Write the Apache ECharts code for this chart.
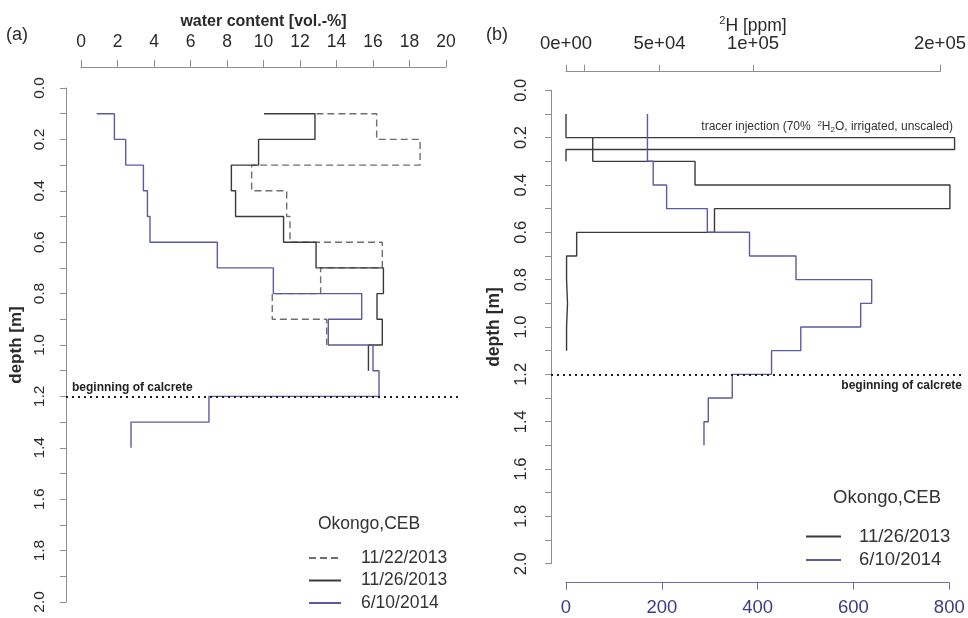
<!DOCTYPE html>
<html><head><meta charset="utf-8">
<script src="https://cdn.jsdelivr.net/npm/echarts@6/dist/echarts.min.js"></script>
<style>html,body{margin:0;padding:0;background:#fff}#c{width:968px;height:618px}</style>
</head><body><div id="c"></div>
<script>
// ---------- data ----------
// Panel (a): water content [vol.-%] per depth layer; first point = start of profile
const depth_wc_1122 = [0.1, 0.2, 0.3, 0.4, 0.5, 0.6, 0.7, 0.8, 0.9, 1.0];
const wc_1122 = [12.9, 16.2, 18.58, 9.35, 11.27, 11.45, 16.51, 13.13, 10.48, 13.46];
const depth_wc_1126 = [0.1, 0.2, 0.3, 0.4, 0.5, 0.6, 0.7, 0.8, 0.9, 1.0, 1.1];
const wc_1126 = [10.03, 12.82, 9.73, 8.24, 8.47, 11.1, 12.88, 16.57, 16.22, 16.51, 15.75];
const depth_wc_0610 = [0.1, 0.2, 0.3, 0.4, 0.5, 0.6, 0.7, 0.8, 0.9, 1.0, 1.1, 1.2, 1.3, 1.4];
const wc_0610 = [0.86, 1.83, 2.45, 3.42, 3.64, 3.78, 7.47, 10.54, 15.38, 13.55, 16.0, 16.33, 7.01, 2.74];

// Panel (b): 2H [ppm]
const depth_tracer = [0.1, 0.2, 0.25, 0.3];
const h2_tracer = [0, 0, 207800, 0];              // top axis units (unscaled tracer)
const depth_h2_1126 = [0.2, 0.3, 0.4, 0.5, 0.6, 0.7, 0.8, 0.9, 1.0, 1.1];
const h2_1126 = [14300, 14300, 69000, 205300, 79400, 5700, 300, 800, 300, 300];  // top axis units
const depth_h2_0610 = [0.1, 0.2, 0.3, 0.4, 0.5, 0.6, 0.7, 0.8, 0.9, 1.0, 1.1, 1.2, 1.3, 1.4, 1.5];
const h2_0610 = [170, 170, 170, 182, 210, 295, 383, 480, 638, 615, 490, 429, 347, 297, 288]; // bottom axis units

const calcreteDepth = 1.2;

// tick values / labels
const wcTicks = [0, 2, 4, 6, 8, 10, 12, 14, 16, 18, 20];
const depthTicks = [0, 0.1, 0.2, 0.3, 0.4, 0.5, 0.6, 0.7, 0.8, 0.9, 1.0, 1.1, 1.2, 1.3, 1.4, 1.5, 1.6, 1.7, 1.8, 1.9, 2.0];
const depthLabels = [0, 0.2, 0.4, 0.6, 0.8, 1.0, 1.2, 1.4, 1.6, 1.8, 2.0];
const h2TopTicks = [0, 10000, 50000, 100000, 200000];
const h2TopLabels = [0, 50000, 100000, 200000];
const h2BottomTicks = [0, 200, 400, 600, 800];

const legendA = ['11/22/2013', '11/26/2013', '6/10/2014'];
const legendB = ['11/26/2013', '6/10/2014'];

// ---------- styling ----------
const FONT = 'Liberation Sans, Arial, Helvetica, sans-serif';
const C_BLACK = '#3a3a3a', C_GRAY = '#6e6e6e', C_BLUE = '#5a5aa6';
const C_AXIS = '#8e8e8e', C_TXT = '#2a2a2a';
const C_BAXIS = '#6c6cae', C_BTXT = '#3c3c86';

const pairs = (vals, deps) => vals.map((v, i) => [v, deps[i]]);
const rExp = v => v.toExponential().replace(/e([+-])(\d)$/, 'e$10$2');

function depthAxis(grid, offset, fontSize, margin, name, nameGap, nameSize) {
  return {
    type: 'value', gridIndex: grid, position: 'left', offset: offset,
    min: 0, max: 2, inverse: true,
    axisLine: {show: true, onZero: false, lineStyle: {color: C_AXIS, width: 1}},
    axisTick: {show: true, length: 6, lineStyle: {color: C_AXIS}, customValues: depthTicks},
    axisLabel: {show: true, rotate: 90, margin: margin, fontSize: fontSize, fontFamily: FONT, color: C_TXT,
      customValues: depthLabels, formatter: v => v.toFixed(1)},
    splitLine: {show: false},
    name: name, nameLocation: 'middle', nameGap: nameGap, nameRotate: 90,
    nameTextStyle: {fontSize: nameSize, fontWeight: 'bold', fontFamily: FONT, color: C_TXT}
  };
}
function hiddenAxis(grid, min, max, inverse) {
  return {type: 'value', gridIndex: grid, show: false, min: min, max: max, inverse: !!inverse,
    axisLine: {onZero: false}, splitLine: {show: false}};
}
function calcreteSeries(xi, yi, position, distance) {
  return {
    type: 'line', xAxisIndex: xi, yAxisIndex: yi, data: [], silent: true,
    markLine: {
      symbol: 'none', silent: true, animation: false,
      lineStyle: {color: '#1e1e1e', width: 2, type: [2, 4], cap: 'butt'},
      label: {show: true, position: position, distance: distance, formatter: 'beginning of calcrete',
        fontSize: 12, fontWeight: 'bold', fontFamily: FONT, color: '#222'},
      emphasis: {disabled: true},
      data: [{yAxis: calcreteDepth}]
    }
  };
}
function profile(name, xi, yi, vals, deps, color, type) {
  return {
    name: name, type: 'line', xAxisIndex: xi, yAxisIndex: yi,
    data: pairs(vals, deps), step: 'end', symbol: 'none', showSymbol: false, clip: false,
    lineStyle: {color: color, width: 1.4, type: type || 'solid'},
    itemStyle: {color: color}, emphasis: {disabled: true}, silent: true
  };
}

const option = {
  animation: false,
  backgroundColor: '#fff',
  textStyle: {fontFamily: FONT},
  title: [
    {text: '(a)', left: 6, top: 26, padding: 0, textStyle: {fontSize: 18, fontWeight: 'normal', color: C_TXT, fontFamily: FONT}},
    {text: '(b)', left: 486, top: 26, padding: 0, textStyle: {fontSize: 18, fontWeight: 'normal', color: C_TXT, fontFamily: FONT}},
    {text: 'Okongo,CEB', left: 318, top: 515, padding: 0, textStyle: {fontSize: 17.5, fontWeight: 'normal', color: '#333', fontFamily: FONT}},
    {text: 'Okongo,CEB', left: 833, top: 488, padding: 0, textStyle: {fontSize: 18.5, fontWeight: 'normal', color: '#333', fontFamily: FONT}},
    {text: '{n|tracer injection (70%  }{sup|2}{n|H}{sub|2}{n|O, irrigated, unscaled)}', right: 15, top: 120, padding: 0,
      textStyle: {fontFamily: FONT, fontWeight: 'normal', rich: {
        n: {fontSize: 12, color: '#333', fontFamily: FONT, fontWeight: 'normal', lineHeight: 14},
        sup: {fontSize: 8, color: '#333', fontFamily: FONT, fontWeight: 'normal', verticalAlign: 'top', lineHeight: 9},
        sub: {fontSize: 8, color: '#333', fontFamily: FONT, fontWeight: 'normal', verticalAlign: 'bottom', lineHeight: 9}
      }}}
  ],
  legend: [
    {data: legendA, orient: 'vertical', left: 308, top: 549, padding: 0, itemWidth: 32, itemHeight: 2, itemGap: 4.5,
      itemStyle: {opacity: 0}, selectedMode: false,
      textStyle: {fontSize: 17.5, color: '#333', fontFamily: FONT, padding: [0, 0, 0, 15]}},
    {data: legendB, orient: 'vertical', left: 805, top: 527, padding: 0, itemWidth: 35, itemHeight: 2, itemGap: 4.5,
      itemStyle: {opacity: 0}, selectedMode: false,
      textStyle: {fontSize: 18.5, color: '#333', fontFamily: FONT, padding: [0, 0, 0, 13]}}
  ],
  grid: [
    {left: 81, top: 88, width: 365, height: 514, containLabel: false, outerBoundsMode: 'none'},        // (a) axes
    {left: 66, top: 67.4, width: 394.6, height: 555.2, containLabel: false, outerBoundsMode: 'none'},  // (a) plot region
    {left: 566, top: 90.3, width: 383.3, height: 473.4, containLabel: false, outerBoundsMode: 'none'}, // (b) bottom axis
    {left: 566, top: 90.3, width: 374, height: 473.4, containLabel: false, outerBoundsMode: 'none'},   // (b) top axis
    {left: 551, top: 71.4, width: 414, height: 511.2, containLabel: false, outerBoundsMode: 'none'}    // (b) plot region
  ],
  xAxis: [
    {type: 'value', gridIndex: 0, position: 'top', offset: 21, min: 0, max: 20,
      axisLine: {show: true, onZero: false, lineStyle: {color: C_AXIS}},
      axisTick: {show: true, length: 7, lineStyle: {color: C_AXIS}, customValues: wcTicks},
      axisLabel: {show: true, margin: 16, fontSize: 17.5, color: C_TXT, fontFamily: FONT, customValues: wcTicks},
      splitLine: {show: false},
      name: 'water content [vol.-%]', nameLocation: 'middle', nameGap: 37.5, nameMoveOverlap: false,
      nameTextStyle: {fontSize: 16, fontWeight: 'bold', color: C_TXT, fontFamily: FONT}},
    hiddenAxis(1, -0.8, 20.8),
    {type: 'value', gridIndex: 2, position: 'bottom', offset: 19, min: 0, max: 800,
      axisLine: {show: true, onZero: false, lineStyle: {color: C_BAXIS}},
      axisTick: {show: true, length: 7, lineStyle: {color: C_BAXIS}, customValues: h2BottomTicks},
      axisLabel: {show: true, margin: 16, fontSize: 18.5, color: C_BTXT, fontFamily: FONT, customValues: h2BottomTicks},
      splitLine: {show: false}},
    {type: 'value', gridIndex: 3, position: 'top', offset: 18.6, min: 0, max: 200000,
      axisLine: {show: true, onZero: false, lineStyle: {color: C_AXIS}},
      axisTick: {show: true, length: 7, lineStyle: {color: C_AXIS}, customValues: h2TopTicks},
      axisLabel: {show: true, margin: 18.5, fontSize: 18.5, color: C_TXT, fontFamily: FONT, customValues: h2TopLabels,
        formatter: v => rExp(v)},
      splitLine: {show: false},
      name: '{sup|2}{m|H [ppm]}', nameLocation: 'middle', nameGap: 36, nameMoveOverlap: false,
      nameTextStyle: {fontFamily: FONT, rich: {
        m: {fontSize: 17.5, color: C_TXT, fontFamily: FONT, lineHeight: 20},
        sup: {fontSize: 11, color: C_TXT, fontFamily: FONT, verticalAlign: 'top', lineHeight: 11}
      }}},
    // (b) full plot region, same scale as the top 2H axis (0 at x=566, 2e5 at x=940)
    hiddenAxis(4, -8021, 213370)
  ],
  yAxis: [
    depthAxis(0, 15, 15.5, 18, 'depth [m]', 41, 17),
    hiddenAxis(1, -0.08, 2.08, true),
    depthAxis(2, 15, 16.5, 21.5, 'depth [m]', 48, 17.5),
    hiddenAxis(3, 0, 2, true),
    hiddenAxis(4, -0.08, 2.08, true)
  ],
  series: [
    profile('11/22/2013', 0, 0, wc_1122, depth_wc_1122, C_GRAY, [7, 4]),
    profile('11/26/2013', 0, 0, wc_1126, depth_wc_1126, C_BLACK),
    profile('6/10/2014', 0, 0, wc_0610, depth_wc_0610, C_BLUE),
    calcreteSeries(1, 1, 'insideStartTop', [6, 3]),
    profile('tracer injection', 4, 4, h2_tracer, depth_tracer, C_BLACK),
    profile('11/26/2013', 4, 4, h2_1126, depth_h2_1126, C_BLACK),
    profile('6/10/2014', 2, 2, h2_0610, depth_h2_0610, C_BLUE),
    calcreteSeries(4, 4, 'insideEndBottom', [3, 5])
  ]
};
const chart = echarts.init(document.getElementById('c'), null, {renderer: 'canvas'});
chart.setOption(option);
</script></body></html>
